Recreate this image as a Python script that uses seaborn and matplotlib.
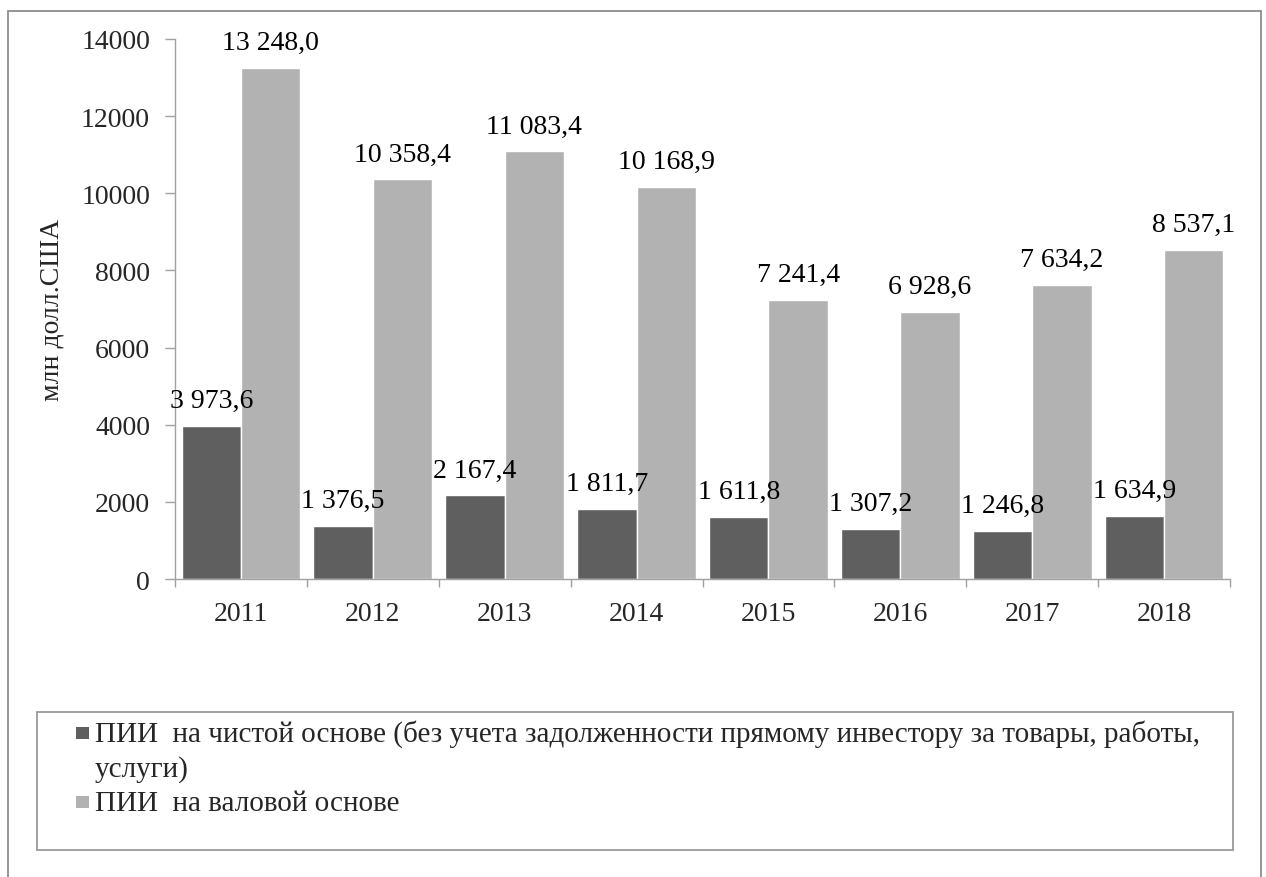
import matplotlib
matplotlib.use("Agg")
import matplotlib.pyplot as plt
import seaborn as sns
import pandas as pd
from matplotlib.patches import Rectangle
from matplotlib.ticker import FixedLocator

# Data
years = ["2011", "2012", "2013", "2014", "2015", "2016", "2017", "2018"]
net_fdi = [3973.6, 1376.5, 2167.4, 1811.7, 1611.8, 1307.2, 1246.8, 1634.9]
gross_fdi = [13248.0, 10358.4, 11083.4, 10168.9, 7241.4, 6928.6, 7634.2, 8537.1]
series_names = [
    "ПИИ  на чистой основе (без учета задолженности прямому инвестору за товары, работы,",
    "ПИИ  на валовой основе",
]
colors = ["#5f5f5f", "#b2b2b2"]

df = pd.DataFrame({
    "year": years * 2,
    "value": net_fdi + gross_fdi,
    "series": [series_names[0]] * len(years) + [series_names[1]] * len(years),
})

sns.set_style("white")
plt.rcParams["font.family"] = "serif"
plt.rcParams["font.serif"] = ["Liberation Serif", "DejaVu Serif"]

W, H = 1266, 878
fig = plt.figure(figsize=(W / 100, H / 100), dpi=100)
ax = fig.add_axes([175 / W, 1 - 580 / H, (1230 - 175) / W, (580 - 40) / H])

sns.barplot(data=df, x="year", y="value", hue="series", palette=colors,
            width=0.9, gap=0, saturation=1, errorbar=None, ax=ax, legend=False)

def fmt(v):
    s = f"{v:,.1f}"
    return s.replace(",", " ").replace(".", ",")

for cont in ax.containers:
    for bar in cont:
        h = bar.get_height()
        ax.annotate(fmt(h), (bar.get_x() + bar.get_width() / 2, h),
                    xytext=(0, 13.5), textcoords="offset points",
                    ha="center", va="baseline", fontsize=20, color="black")

ax.set_ylim(0, 14000)
ax.set_xlim(-0.5, len(years) - 0.5)
ax.set_yticks(range(0, 14001, 2000))
ax.tick_params(axis="y", labelsize=20, length=7, width=1, color="#a0a0a0",
               direction="out", left=True, pad=11)
ax.tick_params(axis="x", which="major", labelsize=20, length=0, pad=16)
ax.xaxis.set_minor_locator(FixedLocator([i - 0.5 for i in range(len(years) + 1)]))
ax.tick_params(axis="x", which="minor", length=6, width=1, color="#a0a0a0",
               direction="out", bottom=True)
ax.set_xlabel("")
ax.set_ylabel("млн долл.США", fontsize=20, labelpad=12)

for side in ["top", "right"]:
    ax.spines[side].set_visible(False)
for side in ["left", "bottom"]:
    ax.spines[side].set_color("#a0a0a0")
    ax.spines[side].set_linewidth(1.0)

def px_rect(x0, y0, x1, y1, **kw):
    return Rectangle((x0 / W, 1 - y1 / H), (x1 - x0) / W, (y1 - y0) / H,
                     transform=fig.transFigure, **kw)

# outer border (open at the bottom) and legend box
fig.patches.append(px_rect(8, 12, 1261, H + 10, fill=False, edgecolor="#8c8c8c", linewidth=1.3))
fig.patches.append(px_rect(37, 713, 1233, 851, fill=False, edgecolor="#9a9a9a", linewidth=1.3))

# legend entries
fig.patches.append(px_rect(76, 728, 89, 740, facecolor=colors[0], edgecolor="none"))
fig.patches.append(px_rect(76, 797, 89, 809, facecolor=colors[1], edgecolor="none"))
fig.text(95 / W, 1 - 742 / H, series_names[0], fontsize=21, va="baseline", ha="left")
fig.text(95 / W, 1 - 777 / H, "услуги)", fontsize=21, va="baseline", ha="left")
fig.text(95 / W, 1 - 811 / H, series_names[1], fontsize=21, va="baseline", ha="left")

fig.savefig("out.png", dpi=100)
